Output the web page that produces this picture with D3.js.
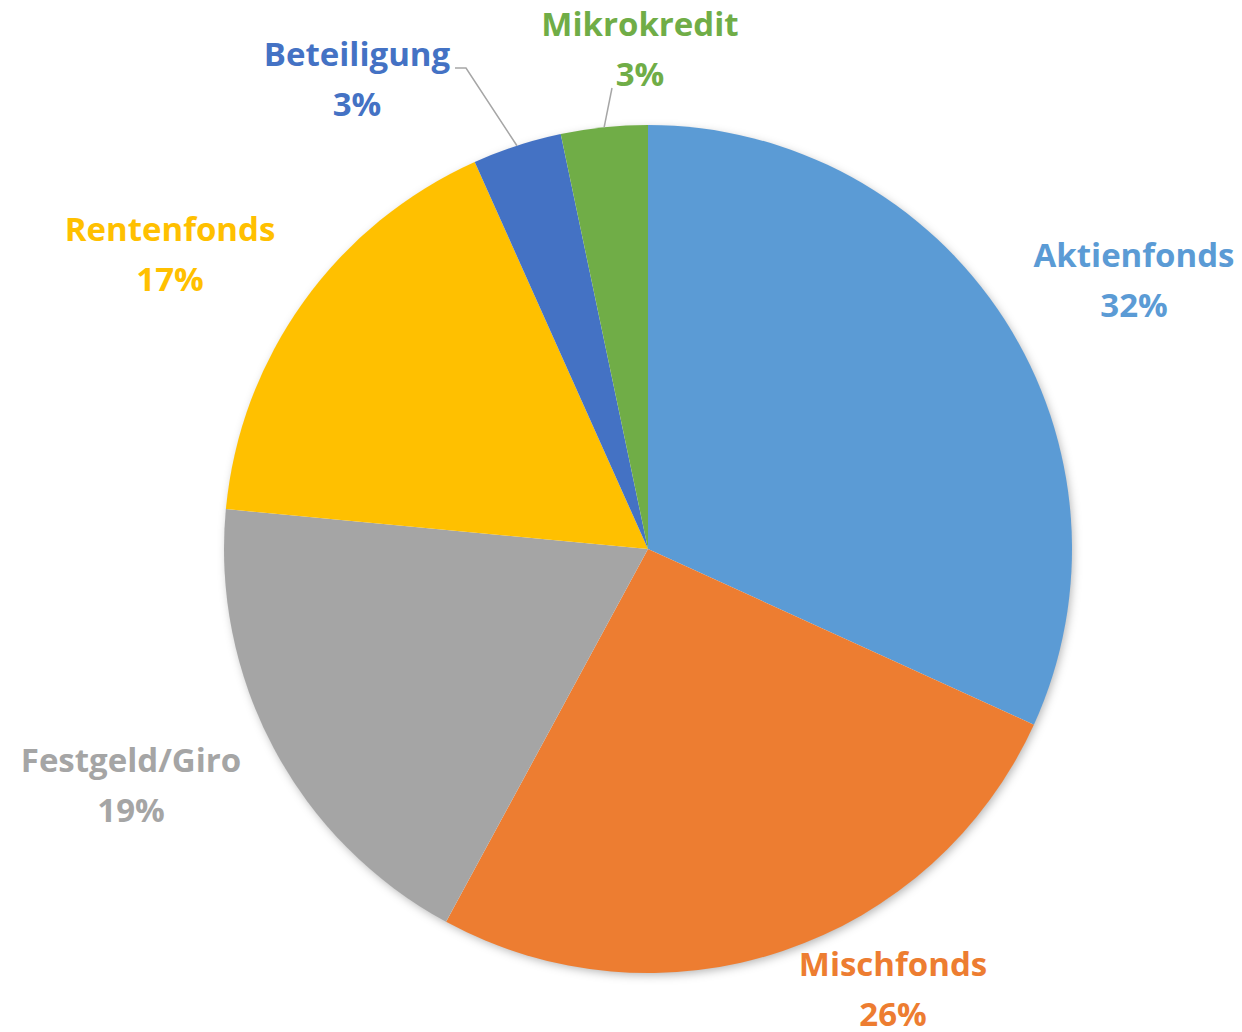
<!DOCTYPE html>
<html lang="de">
<head>
  <meta charset="UTF-8">
  <title>Anlageaufteilung</title>
  <script src="https://d3js.org/d3.v7.min.js"></script>
  <style>
    body { margin: 0; background: #fff; }
    svg { display: block; }
    .lbl { font-family: "Open Sans", "Liberation Sans", sans-serif; font-weight: bold; font-size: 33px; text-anchor: middle; }
  </style>
</head>
<body>
  <div id="chart"></div>
  <script>
    // Daten (Anteile in %)
    const categories = ["Aktienfonds", "Mischfonds", "Festgeld/Giro", "Rentenfonds", "Beteiligung", "Mikrokredit"];
    const values = [31.8, 26.1, 18.6, 16.8, 3.4, 3.3];
    const colors = ["#5B9BD5", "#ED7D31", "#A5A5A5", "#FFC000", "#4472C4", "#70AD47"];

    const width = 1242, height = 1032;
    const cx = 648, cy = 549, radius = 424;

    // Label-Positionen (Mitte der ersten Zeile), wie Excel "optimal" platziert
    const labelAt = {
      "Aktienfonds": [1134, 267],
      "Mischfonds": [893, 976],
      "Festgeld/Giro": [131, 772],
      "Rentenfonds": [170, 241],
      "Beteiligung": [357, 66],
      "Mikrokredit": [640, 36]
    };
    // Führungslinien nur für die kleinen Segmente
    const leaderFrom = {
      "Beteiligung": [[455, 68], [466, 68]],
      "Mikrokredit": [[612, 88]]
    };

    const data = categories.map((c, i) => ({ name: c, value: values[i], color: colors[i] }));
    const total = d3.sum(values);

    const svg = d3.select("#chart").append("svg")
      .attr("width", width)
      .attr("height", height);

    const defs = svg.append("defs");
    const f = defs.append("filter").attr("id", "shadow")
      .attr("x", "-10%").attr("y", "-10%").attr("width", "120%").attr("height", "120%");
    f.append("feDropShadow")
      .attr("dx", 2).attr("dy", 3)
      .attr("stdDeviation", 5)
      .attr("flood-color", "#000")
      .attr("flood-opacity", 0.3);

    const pie = d3.pie().value(d => d.value).sort(null);
    const arcs = pie(data);
    const arc = d3.arc().innerRadius(0).outerRadius(radius);

    const g = svg.append("g").attr("transform", `translate(${cx},${cy})`);

    // Schatten unter dem gesamten Kreis
    g.append("circle").attr("r", radius - 1).attr("fill", "#fff").attr("filter", "url(#shadow)");

    g.selectAll("path.slice")
      .data(arcs)
      .enter().append("path")
      .attr("class", "slice")
      .attr("d", arc)
      .attr("fill", d => d.data.color);

    // Führungslinien
    arcs.forEach(a => {
      const from = leaderFrom[a.data.name];
      if (!from) return;
      const mid = (a.startAngle + a.endAngle) / 2;
      const end = [cx + radius * Math.sin(mid), cy - radius * Math.cos(mid)];
      svg.append("path")
        .attr("d", d3.line()(from.concat([end])))
        .attr("fill", "none")
        .attr("stroke", "#A6A6A6")
        .attr("stroke-width", 1.5);
    });

    // Beschriftungen
    arcs.forEach(a => {
      const [x, y] = labelAt[a.data.name];
      const t = svg.append("text").attr("class", "lbl").attr("fill", a.data.color);
      t.append("tspan").attr("x", x).attr("y", y).text(a.data.name);
      t.append("tspan").attr("x", x).attr("y", y + 50)
        .text(Math.round(a.data.value / total * 100) + "%");
    });
  </script>
</body>
</html>
